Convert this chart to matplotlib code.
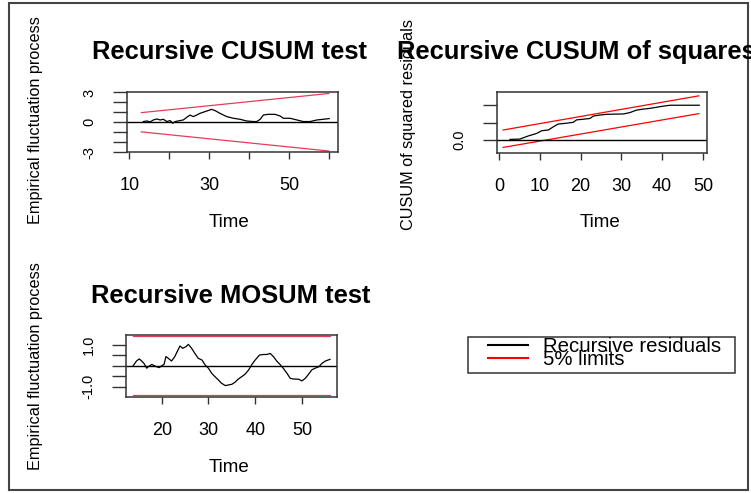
import matplotlib
matplotlib.use('Agg')
import matplotlib.pyplot as plt
from matplotlib.lines import Line2D
from matplotlib.patches import Rectangle

plt.rcParams['font.family'] = ['Liberation Sans', 'DejaVu Sans']

# Recursive CUSUM test
cusum_t = [13.5, 14.4, 15.2, 16.0, 16.9, 17.7, 18.5, 19.4, 20.2, 20.9, 21.5, 22.7, 23.5,
           24.4, 25.2, 26.0, 26.9, 27.7, 29.4, 30.6, 31.5, 32.7, 34.4, 36.1, 37.7, 39.4,
           41.1, 41.9, 42.8, 43.6, 44.8, 46.5, 47.8, 48.6, 50.3, 52.0, 53.6, 55.3, 57.0,
           58.6, 60.1]
cusum_v = [0.07, 0.13, 0.03, 0.23, 0.33, 0.23, 0.30, 0.07, 0.17, -0.10, 0.07, 0.17, 0.23,
           0.50, 0.73, 0.57, 0.73, 0.90, 1.13, 1.30, 1.17, 0.90, 0.57, 0.40, 0.30, 0.13,
           0.07, 0.07, 0.30, 0.73, 0.80, 0.80, 0.63, 0.40, 0.40, 0.23, 0.07, 0.07, 0.23,
           0.30, 0.37]
cusum_bound_t = [13, 60]
cusum_upper = [0.97, 2.9]
cusum_lower = [-0.97, -2.9]

# Recursive CUSUM of squares
cusq_t = [2.7, 5.1, 7.2, 9.2, 10.5, 12.1, 13.3, 14.5, 16.2, 18.2, 19.0, 20.7, 22.3, 23.1,
          24.8, 26.4, 30.5, 32.1, 33.7, 35.4, 37.0, 39.5, 41.9, 49.1]
cusq_v = [0.02, 0.03, 0.12, 0.19, 0.27, 0.29, 0.38, 0.46, 0.48, 0.51, 0.58, 0.60, 0.62,
          0.69, 0.72, 0.74, 0.75, 0.79, 0.86, 0.89, 0.91, 0.96, 1.00, 1.00]
cusq_bound_t = [1, 49]
cusq_upper = [0.29, 1.27]
cusq_lower = [-0.21, 0.76]

# Recursive MOSUM test
mosum_t = [13.9, 14.6, 15.2, 15.7, 16.2, 16.8, 17.1, 17.9, 18.4, 18.9, 19.5, 20.0, 20.5,
           20.9, 21.4, 22.1, 22.8, 23.3, 23.9, 24.5, 25.2, 25.7, 26.4, 27.1, 27.8, 28.6,
           29.3, 30.0, 30.7, 31.4, 32.1, 32.8, 33.6, 34.3, 35.0, 35.7, 36.4, 37.1, 37.8,
           38.6, 39.3, 40.0, 40.9, 41.8, 42.5, 43.2, 43.9, 44.6, 45.3, 46.0, 46.8, 47.5,
           48.2, 49.3, 50.0, 50.7, 51.4, 52.1, 52.8, 53.6, 54.3, 55.0, 56.0]
mosum_v = [0.00, 0.22, 0.32, 0.22, 0.11, -0.12, -0.05, 0.06, 0.00, -0.05, -0.09, 0.00,
           0.06, 0.43, 0.35, 0.22, 0.43, 0.66, 0.93, 0.82, 0.90, 1.01, 0.82, 0.58, 0.35,
           0.27, 0.03, -0.12, -0.36, -0.52, -0.67, -0.83, -0.94, -0.91, -0.88, -0.78,
           -0.63, -0.52, -0.41, -0.20, 0.06, 0.27, 0.50, 0.53, 0.53, 0.58, 0.43, 0.22,
           0.06, -0.12, -0.36, -0.60, -0.63, -0.64, -0.72, -0.60, -0.41, -0.20, -0.12,
           -0.05, 0.11, 0.22, 0.30]
mosum_bound_t = [13.9, 56.0]
mosum_upper = [1.38, 1.38]
mosum_lower = [-1.38, -1.38]

W, H = 751, 493
fig = plt.figure(figsize=(W / 100, H / 100), dpi=100)

def px_axes(x0, y0, x1, y1):
    return fig.add_axes([x0 / W, 1 - y1 / H, (x1 - x0) / W, (y1 - y0) / H])

def style(ax):
    for s in ax.spines.values():
        s.set_linewidth(1.1)
        s.set_color('#333333')
    ax.tick_params(axis='x', length=5, width=1.0, pad=13, labelsize=13, color='#333333')
    ax.tick_params(axis='y', length=10, width=1.0, pad=12, labelsize=10.5, color='#333333')

red_soft = '#e63c5a'

# panel 1
ax1 = px_axes(127, 92, 338, 152.5)
ax1.plot(cusum_t, cusum_v, color='black', lw=0.9)
ax1.plot(cusum_bound_t, cusum_upper, color=red_soft, lw=0.9)
ax1.plot(cusum_bound_t, cusum_lower, color=red_soft, lw=0.9)
ax1.axhline(0, color='black', lw=1.0)
ax1.set_xlim(9.4, 62.3)
ax1.set_ylim(-3.05, 3.05)
ax1.set_xticks([10, 20, 30, 40, 50, 60])
ax1.set_xticklabels(['10', '', '30', '', '50', ''])
ax1.set_yticks([-3, -2, -1, 0, 1, 2, 3])
ax1.set_yticklabels(['-3', '', '', '0', '', '', '3'], rotation=90, va='center')
style(ax1)

# panel 2
ax2 = px_axes(497, 92, 707, 153)
ax2.plot(cusq_t, cusq_v, color='black', lw=0.9)
ax2.plot(cusq_bound_t, cusq_upper, color='red', lw=0.9)
ax2.plot(cusq_bound_t, cusq_lower, color='red', lw=0.9)
ax2.axhline(0, color='black', lw=1.0)
ax2.set_xlim(-0.5, 51)
ax2.set_ylim(-0.37, 1.38)
ax2.set_xticks([0, 10, 20, 30, 40, 50])
ax2.set_yticks([0, 0.5, 1.0])
ax2.set_yticklabels(['0.0', '', ''], rotation=90, va='center')
style(ax2)

# panel 3
ax3 = px_axes(126, 335, 337, 397)
ax3.plot(mosum_t, mosum_v, color='black', lw=0.9)
ax3.plot(mosum_bound_t, mosum_upper, color=red_soft, lw=0.9)
ax3.plot(mosum_bound_t, mosum_lower, color=red_soft, lw=0.9)
ax3.axhline(0, color='black', lw=1.0)
ax3.set_xlim(12.36, 57.5)
ax3.set_ylim(-1.48, 1.45)
ax3.set_xticks([20, 30, 40, 50])
ax3.set_yticks([-1.0, -0.5, 0, 0.5, 1.0])
ax3.set_yticklabels(['-1.0', '', '', '', '1.0'], rotation=90, va='center')
style(ax3)

def ftext(x, y, s, **kw):
    fig.text(x / W, 1 - y / H, s, va='center', **kw)

# titles
ftext(230, 52, 'Recursive CUSUM test', ha='center', size=18.4, weight='bold')
ftext(397, 52, 'Recursive CUSUM of squares', ha='left', size=18.4, weight='bold')
ftext(231, 296, 'Recursive MOSUM test', ha='center', size=18.4, weight='bold')

# axis labels
ftext(229, 222, 'Time', ha='center', size=13.5)
ftext(600, 222, 'Time', ha='center', size=13.5)
ftext(229, 467, 'Time', ha='center', size=13.5)
ftext(36, 120, 'Empirical fluctuation process', ha='center', size=11.7, rotation=90)
ftext(408, 125, 'CUSUM of squared residuals', ha='center', size=11.7, rotation=90)
ftext(36, 366, 'Empirical fluctuation process', ha='center', size=11.7, rotation=90)

# legend
handles = [Line2D([], [], color='black', lw=1.5), Line2D([], [], color='red', lw=1.5)]
fig.legend(handles, ['Recursive residuals', '5% limits'], loc='upper left',
           bbox_to_anchor=(488 / W, 1 - 337 / H), frameon=False, borderpad=0,
           borderaxespad=0, handlelength=1.95, handletextpad=0.75, labelspacing=-0.30,
           fontsize=14.7)
fig.patches.append(Rectangle((468 / W, 1 - 373 / H), 267 / W, 36 / H, fill=False,
                             edgecolor='#333333', lw=1.1, transform=fig.transFigure))

# outer frame
fig.patches.append(Rectangle((9 / W, 1 - 490 / H), 739 / W, 487 / H, fill=False,
                             edgecolor='#444444', lw=1.5, transform=fig.transFigure))

fig.savefig('out.png', dpi=100)
